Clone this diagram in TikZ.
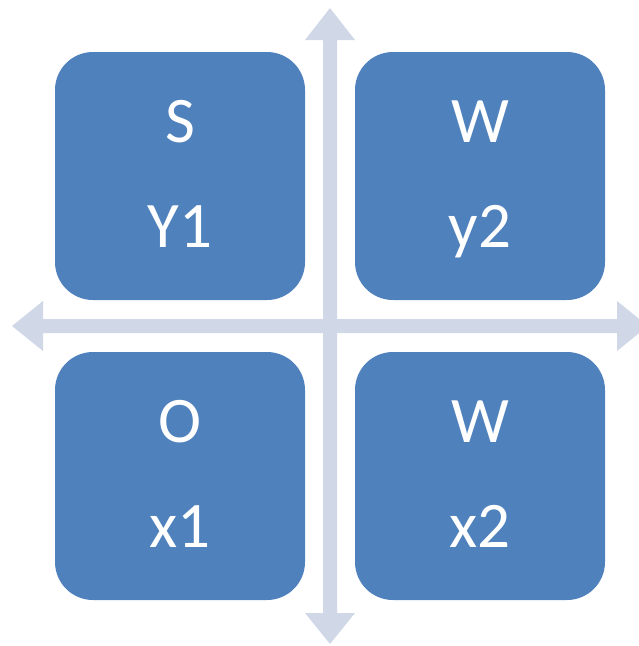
\documentclass[tikz,border=0pt]{standalone}
\usepackage{fontspec}
\setmainfont{Carlito}
\definecolor{boxblue}{HTML}{4F81BD}
\definecolor{crossgray}{HTML}{D0D8E8}
\tikzset{
  quadbox/.style={fill=boxblue, draw=none, rounded corners=38pt, minimum width=250pt, minimum height=248pt, inner sep=0pt},
  quadtext/.style={text=white, anchor=base, inner sep=0pt, font=\fontsize{65}{78}\selectfont},
  crossfill/.style={fill=crossgray, draw=none}
}
\begin{document}
\begin{tikzpicture}[x=1pt,y=-1pt]
\useasboundingbox (0,0) rectangle (639,646);
\clip (0,0) rectangle (639,646);
% cross arrows
\fill[crossfill] (330,8) -- (355,40) -- (337,40) -- (337,613) -- (355,613) -- (330,644) -- (305,613) -- (323,613) -- (323,40) -- (305,40) -- cycle;
\fill[crossfill] (12,326) -- (43,301) -- (43,319) -- (617,319) -- (617,301) -- (648,326) -- (617,351) -- (617,333) -- (43,333) -- (43,351) -- cycle;
% boxes
\node[quadbox] (tl) at (180,176) {};
\node[quadbox] (tr) at (480,176) {};
\node[quadbox] (bl) at (180,476) {};
\node[quadbox] (br) at (480,476) {};
% texts
\node[quadtext] (tla) at (180,142) {S};
\node[quadtext] (tlb) at (180,247) {Y1};
\node[quadtext] (tra) at (480,142) {W};
\node[quadtext] (trb) at (480,247) {y2};
\node[quadtext] (bla) at (180,442) {O};
\node[quadtext] (blb) at (180,547) {x1};
\node[quadtext] (bra) at (480,442) {W};
\node[quadtext] (brb) at (480,547) {x2};
\end{tikzpicture}
\end{document}
